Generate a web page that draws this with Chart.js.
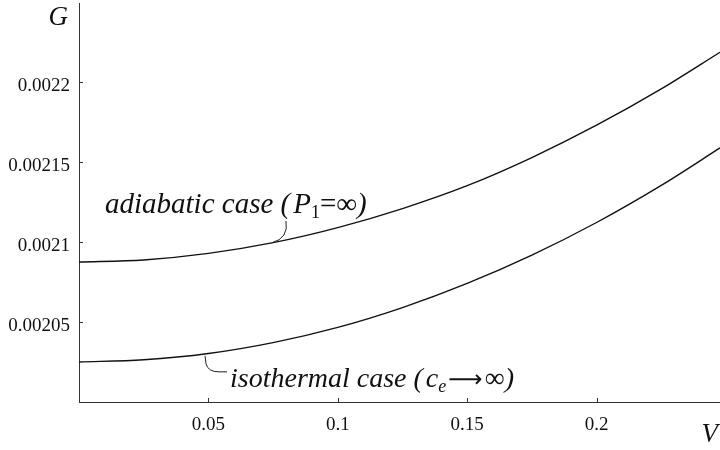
<!DOCTYPE html>
<html>
<head>
<meta charset="utf-8">
<script src="https://cdn.jsdelivr.net/npm/chart.js@4.4.0/dist/chart.umd.min.js"></script>
<style>
  html, body { margin: 0; padding: 0; background: #fff; }
  #grafico { display: block; }
</style>
</head>
<body>
<canvas id="grafico" width="720" height="450"></canvas>
<script>
// valores
const vValues = [0, 0.025, 0.05, 0.075, 0.1, 0.125, 0.15, 0.175, 0.2, 0.225, 0.2477];
const adiabatico = [0.0020875, 0.0020888, 0.0020929, 0.0020996, 0.0021090, 0.0021209, 0.0021352, 0.0021528, 0.0021730, 0.0021957, 0.0022186];
const isotermico = [0.0020250, 0.0020264, 0.0020303, 0.0020371, 0.0020466, 0.0020590, 0.0020741, 0.0020918, 0.0021122, 0.0021354, 0.0021588];
const xTicks = [0.05, 0.1, 0.15, 0.2];
const yTicks = [0.00205, 0.0021, 0.00215, 0.0022];

const serif = "'Liberation Serif', 'Times New Roman', 'DejaVu Serif', serif";
const tinta = "#111";

function interpolar(serie, v) {
    for (let i = 1; i < vValues.length; i++) {
        if (v <= vValues[i]) {
            const t = (v - vValues[i - 1]) / (vValues[i] - vValues[i - 1]);
            return serie[i - 1] + t * (serie[i] - serie[i - 1]);
        }
    }
    return serie[serie.length - 1];
}

// dibuja un texto hecho de trozos con distinta fuente
function textoPartes(ctx, x, y, partes) {
    let px = x;
    partes.forEach(p => {
        ctx.font = p.font;
        ctx.fillText(p.t, px, y + (p.dy || 0));
        px += ctx.measureText(p.t).width + (p.gap || 0);
    });
}

const extras = {
    id: "extras",
    afterDraw(chart) {
        const ctx = chart.ctx;
        const sx = chart.scales.x;
        const sy = chart.scales.y;
        const area = chart.chartArea;
        ctx.save();
        ctx.strokeStyle = "#333";
        ctx.lineWidth = 1;
        // marcas hacia adentro
        xTicks.forEach(v => {
            const px = Math.round(sx.getPixelForValue(v)) + 0.5;
            ctx.beginPath();
            ctx.moveTo(px, area.bottom);
            ctx.lineTo(px, area.bottom - 4);
            ctx.stroke();
        });
        yTicks.forEach(v => {
            const py = Math.round(sy.getPixelForValue(v)) + 0.5;
            ctx.beginPath();
            ctx.moveTo(area.left, py);
            ctx.lineTo(area.left + 4, py);
            ctx.stroke();
        });

        ctx.fillStyle = tinta;
        ctx.textBaseline = "alphabetic";
        // nombres de ejes
        ctx.font = "italic 27px " + serif;
        ctx.textAlign = "right";
        ctx.fillText("G", 68, 25);
        ctx.fillText("V", 718, 442);
        ctx.textAlign = "left";

        // etiqueta adiabatica
        const it = "italic 29px " + serif;
        const rg = "29px " + serif;
        textoPartes(ctx, 105, 213, [
            { t: "adiabatic case (", font: it, gap: 3 },
            { t: "P", font: it },
            { t: "1", font: "18px " + serif, dy: 5 },
            { t: "=", font: rg },
            { t: "\u221E", font: rg },
            { t: ")", font: it }
        ]);
        const va = 0.0745;
        const ax = sx.getPixelForValue(va);
        const ay = sy.getPixelForValue(interpolar(adiabatico, va));
        ctx.strokeStyle = "#222";
        ctx.lineWidth = 1;
        ctx.beginPath();
        ctx.moveTo(286, 221);
        ctx.quadraticCurveTo(289, 238, ax, ay);
        ctx.stroke();

        // etiqueta isotermica
        const vi = 0.0487;
        const ix = sx.getPixelForValue(vi);
        const iy = sy.getPixelForValue(interpolar(isotermico, vi));
        ctx.beginPath();
        ctx.moveTo(ix, iy + 2);
        ctx.lineTo(ix + 1, iy + 10);
        ctx.quadraticCurveTo(ix + 3, iy + 18, ix + 14, iy + 18);
        ctx.lineTo(ix + 22, iy + 18);
        ctx.stroke();
        textoPartes(ctx, 230, 387, [
            { t: "isothermal case (", font: "italic 28px " + serif, gap: 3 },
            { t: "c", font: "italic 28px " + serif },
            { t: "e", font: "italic 18px " + serif, dy: 5, gap: 2 },
            { t: "\u27F6", font: "24px 'DejaVu Sans', " + serif, gap: 2 },
            { t: "\u221E", font: "28px " + serif },
            { t: ")", font: "italic 28px " + serif }
        ]);
        ctx.restore();
    }
};

const sinRelleno = s => { s.paddingTop = 0; s.paddingBottom = 0; s.paddingLeft = 0; s.paddingRight = 0; };

const ctx = document.getElementById("grafico").getContext("2d");
new Chart(ctx, {
    type: "line",
    data: {
        datasets: [
            { label: "adiabatic", data: vValues.map((v, i) => ({ x: v, y: adiabatico[i] })), borderColor: "#111", borderWidth: 1.4, pointRadius: 0, cubicInterpolationMode: "monotone" },
            { label: "isothermal", data: vValues.map((v, i) => ({ x: v, y: isotermico[i] })), borderColor: "#111", borderWidth: 1.4, pointRadius: 0, cubicInterpolationMode: "monotone" }
        ]
    },
    options: {
        responsive: false,
        animation: false,
        devicePixelRatio: 1,
        layout: { padding: { top: 3, right: 0, left: 0, bottom: 0 } },
        plugins: { legend: { display: false }, tooltip: { enabled: false } },
        scales: {
            x: {
                type: "linear", min: 0, max: 0.2477,
                afterBuildTicks: s => { s.ticks = xTicks.map(v => ({ value: v })); },
                afterFit: s => { s.height = 48; sinRelleno(s); },
                grid: { display: false },
                border: { display: true, color: "#333", width: 1 },
                ticks: { font: { family: serif, size: 19 }, color: tinta, padding: 4, autoSkip: false, maxRotation: 0, callback: v => String(v) }
            },
            y: {
                min: 0.002, max: 0.0022494,
                afterBuildTicks: s => { s.ticks = yTicks.map(v => ({ value: v })); },
                afterFit: s => { s.width = 79; sinRelleno(s); },
                grid: { display: false },
                border: { display: true, color: "#333", width: 1 },
                ticks: { font: { family: serif, size: 19 }, color: tinta, padding: 1, labelOffset: 4, callback: v => String(v) }
            }
        }
    },
    plugins: [extras]
});
</script>
</body>
</html>
